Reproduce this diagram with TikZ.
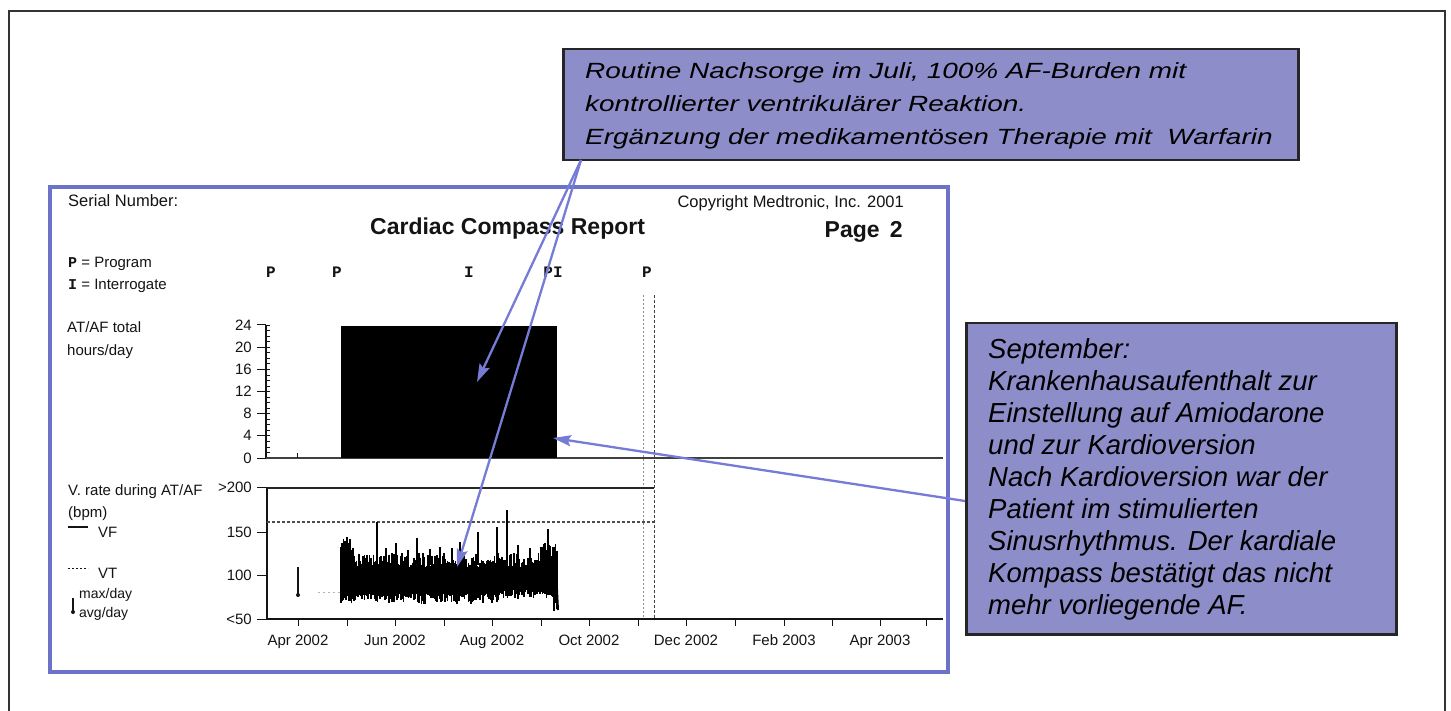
\documentclass[tikz,border=0pt]{standalone}
\usepackage{fontspec}
\usepackage{graphicx}
\setmainfont{Liberation Sans}
\newfontfamily\monofam{Liberation Mono}
\usetikzlibrary{arrows.meta,calc}
\definecolor{calloutfill}{RGB}{141,141,201}
\definecolor{frameblue}{RGB}{108,114,200}
\definecolor{arrowblue}{RGB}{118,124,214}
\definecolor{ink}{RGB}{20,20,20}

\begin{document}
\begin{tikzpicture}[x=1pt,y=-1pt,
  rep/.style={font=\fontsize{15}{17}\selectfont, text=ink, inner sep=0pt, anchor=base west},
  replarge/.style={font=\fontsize{16.5}{19}\selectfont, text=ink, inner sep=0pt},
  heading/.style={font=\bfseries\fontsize{23}{26}\selectfont, text=ink, inner sep=0pt},
  ylab/.style={font=\fontsize{15}{17}\selectfont, text=ink, inner sep=0pt, anchor=east},
  xlab/.style={font=\fontsize{15}{17}\selectfont, text=ink, inner sep=0pt, anchor=base},
  evmark/.style={font=\monofam\bfseries\fontsize{16}{18}\selectfont, text=ink, inner sep=0pt, anchor=base},
  callout/.style={draw=black!85, line width=2.5pt, fill=calloutfill, inner sep=0pt, anchor=north west},
  note/.style={font=\itshape\fontsize{27.5}{32}\selectfont, inner sep=0pt, anchor=base west},
  widenote/.style={font=\itshape\fontsize{22}{24}\selectfont, inner sep=0pt, anchor=base west},
  pointer/.style={draw=arrowblue, line width=2.3pt, -{Stealth[length=18pt,width=11pt,inset=3pt]}},
  axisline/.style={draw=ink, line width=1.2pt},
]
\useasboundingbox (0,0) rectangle (1451,711);
\fill[white] (0,0) rectangle (1451,711);

% outer page frame
\draw[black!80, line width=1.5pt] (9,711) -- (9,11) -- (1445,11) -- (1445,711);

% report frame
\draw[frameblue, line width=4pt] (50,187) rectangle (948,672);

% report header
\node[replarge, anchor=base west] (serial) at (68,207) {Serial Number:};
\node[replarge, anchor=base east] (copyright) at (904,208) {Copyright Medtronic, Inc. 2001};
\node[heading, anchor=base west] (title) at (370,235) {Cardiac Compass Report};
\node[heading, anchor=base east] (page) at (903,238) {Page\hspace{0.45em}2};

% event legend
\node[rep] (legP) at (68,268) {{\monofam\bfseries P} = Program};
\node[rep] (legI) at (68,290) {{\monofam\bfseries I} = Interrogate};

% event markers
\node[evmark] (ev1) at (271,278) {P};
\node[evmark] (ev2) at (337,278) {P};
\node[evmark] (ev3) at (469,278) {I};
\node[evmark] (ev4) at (553,278) {PI};
\node[evmark] (ev5) at (647,278) {P};

% ---------- AT/AF hours per day ----------
\node[rep] (afl1) at (67,333) {AT/AF total};
\node[rep] (afl2) at (67,355) {hours/day};

\draw[axisline] (266,325) -- (266,458);
\foreach \h in {0,...,24}
  \draw[ink, line width=0.7pt] (266,{458-\h*133/24}) -- (270,{458-\h*133/24});
\foreach \v in {0,4,...,24}{
  \draw[ink, line width=1pt] (257,{458-\v*133/24}) -- (266,{458-\v*133/24});
  \node[ylab] at (252,{458-\v*133/24}) {\v};
}
\draw[black!75, line width=1.3pt] (266,458) -- (943,458);
\draw[ink, line width=1pt] (297,453) -- (297,458);
\fill[black] (341,326) rectangle (557,458);

% vertical separators
\draw[black!45, line width=0.8pt, dash pattern=on 2pt off 2pt] (643,295) -- (643,620);
\draw[black!75, line width=0.9pt, dash pattern=on 3pt off 2pt] (654,295) -- (654,620);

% ---------- ventricular rate ----------
\node[rep] (vr1) at (68,495) {V. rate during AT/AF};
\node[rep] (vr2) at (68,517) {(bpm)};
\draw[ink, line width=1.2pt] (68,527) -- (88,527);
\node[rep] (vf) at (98,537) {VF};
\draw[ink, line width=1pt, dash pattern=on 2pt off 2pt] (68,568) -- (88,568);
\node[rep] (vt) at (98,578) {VT};
\draw[ink, line width=1.2pt] (73,598) -- (73,611);
\fill[ink] (73,612) circle (2pt);
\node[rep, font=\fontsize{14}{16}\selectfont] (mx) at (79,598) {max/day};
\node[rep, font=\fontsize{14}{16}\selectfont] (av) at (79,617) {avg/day};

\draw[axisline] (267,487) -- (267,619);
\foreach \y/\l in {487/{>200},532/150,575/100,619/{<50}}{
  \draw[ink, line width=1pt] (257,\y) -- (267,\y);
  \node[ylab] at (252,\y) {\l};
}
\draw[black!85, line width=1.8pt] (267,488) -- (654,488);
\draw[black!70, line width=1.1pt, dash pattern=on 2.5pt off 2.5pt] (267,522) -- (654,522);

% x axis with month ticks
\draw[axisline] (267,619) -- (943,619);
\foreach \x in {298,347,395,444,492,541,589,638,686,735,784,832,880,926}
  \draw[ink, line width=1pt] (\x,619) -- (\x,626);
\foreach \x/\m in {298/Apr 2002,395/Jun 2002,492/Aug 2002,589/Oct 2002,686/Dec 2002,784/Feb 2003,880/Apr 2003}
  \node[xlab] at (\x,645) {\m};

% daily rate data
\draw[ink, line width=1.6pt] (298,567) -- (298,594);
\fill[ink] (298,595) circle (2pt);
\draw[black!30, line width=0.8pt, dash pattern=on 2pt off 3pt] (318,592) -- (340,592);
\pgfmathsetseed{11}
\foreach \x in {341,342.3,...,558}{
  \pgfmathsetmacro\t{(\x<354 ? 538 : (\x>541 ? 543 : 553)) + 14*rnd}
  \pgfmathsetmacro\b{(\x>553 ? 603 : (\x>500 ? 590 : 594)) + 10*rnd}
  \draw[black, line width=1.7pt] (\x,\t) -- (\x,\b);
}
\foreach \x/\t in {347/537,350/539,377/522,386/548,396/543,408/550,417/538,430/549,440/547,452/548,460/542,478/532,497/527,507/510,518/545,530/548,541/547,548/529}
  \draw[black, line width=1.3pt] (\x,\t) -- (\x,565);
\draw[black, line width=2pt] (557,590) -- (558,610);

% ---------- annotation boxes ----------
\node[callout, minimum width=735pt, minimum height=111pt] (juli) at (562,48) {};
\node[widenote] (j1) at (585,79) {\scalebox{1.27}[1]{Routine Nachsorge im Juli, 100\% AF-Burden mit}};
\node[widenote] (j2) at (585,112) {\scalebox{1.27}[1]{kontrollierter ventrikulärer Reaktion.}};
\node[widenote] (j3) at (585,145) {\scalebox{1.27}[1]{Ergänzung der medikamentösen Therapie mit\ \ Warfarin}};

\node[callout, minimum width=430pt, minimum height=311pt] (sept) at (965,322) {};
\foreach \t [count=\i from 0] in {September:,Krankenhausaufenthalt zur,Einstellung auf Amiodarone,und zur Kardioversion,Nach Kardioversion war der,Patient im stimulierten,Sinusrhythmus. Der kardiale,Kompass bestätigt das nicht,mehr vorliegende AF.}
  \node[note] (s\i) at (988,{358+32*\i}) {\t};

% ---------- pointers ----------
\coordinate (jfoot) at (581,160);
\coordinate (blockpt) at (477,382);
\coordinate (ratept) at (457,567);
\coordinate (sfoot) at (965,501);
\coordinate (endpt) at (553,438);
\draw[pointer] (jfoot) -- (blockpt);
\draw[pointer] (jfoot) -- (ratept);
\draw[pointer] (sfoot) -- (endpt);
\end{tikzpicture}
\end{document}
